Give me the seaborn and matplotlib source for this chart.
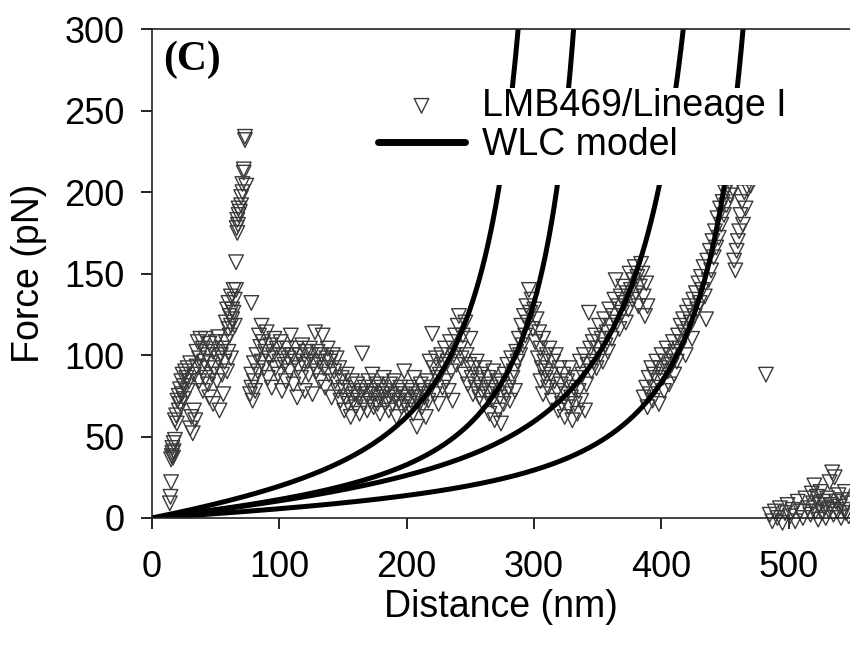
import numpy as np
import pandas as pd
import matplotlib
matplotlib.use("Agg")
import matplotlib.pyplot as plt
from matplotlib.patches import Rectangle
import seaborn as sns

# --- data (distance nm, force pN) ---
rise_x = [14, 14.5, 15, 15, 15.5, 16, 16, 16.5, 17, 17, 18, 18, 19, 19.5, 20, 21, 21, 22, 22, 23,
          23.5, 24, 25, 25, 26, 27, 28, 28, 29, 30]
rise_y = [9, 13, 22, 36, 38, 40, 43, 37, 46, 41, 48, 60, 63, 58, 72, 75, 66, 79, 70, 84,
          76, 88, 81, 73, 90, 86, 78, 92, 84, 95]

plateau1_x = [30, 31, 32, 33, 33, 34, 35, 35, 36, 37, 37, 38, 39, 40, 40, 41, 42, 42, 43, 44, 45,
              45, 46, 47, 48, 48, 49, 50, 51, 52, 52, 53, 54, 55, 55, 56, 57, 58, 59, 60, 61, 62]
plateau1_y = [55, 62, 52, 66, 88, 60, 102, 93, 108, 84, 98, 110, 92, 78, 104, 96, 110, 86, 100, 82, 74,
              107, 95, 88, 102, 70, 92, 108, 84, 98, 111, 66, 100, 88, 104, 76, 96, 108, 90, 102, 112, 98]

peak_x = [58, 59, 60, 60, 61, 62, 62, 63, 63, 64, 64, 65, 65, 66, 66, 66.5, 67, 67, 67.5, 68, 68,
          69, 70, 70, 71, 71, 72, 72, 73, 73, 74, 78]
peak_y = [120, 128, 116, 132, 124, 118, 136, 128, 122, 140, 126, 118, 134, 140, 157, 178, 183, 175, 180, 186, 190,
          188, 192, 197, 205, 200, 212, 214, 232, 234, 204, 132]

plateau2_x = [77, 78, 78, 79, 80, 80, 81, 82, 83, 84, 85, 86, 86, 87, 88, 89, 90, 91, 92, 93, 94, 95,
              96, 97, 98, 99, 100, 101, 102, 103, 104, 105, 106, 107, 108, 109, 110, 111, 112, 113, 114,
              115, 116, 117, 118, 119, 120, 121, 122, 123, 124, 125, 126, 127, 128, 129, 130, 131, 132,
              133, 134, 135, 136, 137, 138, 139, 140, 141, 142, 143, 144, 145, 146, 147, 148, 149]
plateau2_y = [76, 80, 88, 72, 95, 84, 78, 100, 90, 112, 105, 96, 118, 108, 92, 102, 114, 86, 98, 106, 80, 100,
              110, 92, 104, 88, 96, 108, 78, 100, 94, 84, 104, 98, 90, 112, 100, 82, 96, 104, 74,
              92, 100, 86, 106, 94, 78, 102, 96, 88, 104, 100, 76, 94, 114, 90, 102, 96, 84,
              100, 112, 92, 80, 98, 104, 88, 96, 74, 100, 90, 84, 98, 78, 92, 72, 86]

plateau3_x = [150, 151, 152, 153, 154, 155, 156, 157, 158, 159, 160, 161, 162, 163, 164, 165, 166, 167,
              168, 169, 170, 171, 172, 173, 174, 175, 176, 177, 178, 179, 180, 181, 182, 183, 184, 185,
              186, 187, 188, 189, 190, 191, 192, 193, 194, 195, 196, 197, 198, 199, 200, 201, 202, 203,
              204, 205, 206, 207, 208, 209, 210, 211, 212, 213, 214, 215, 216, 217, 218, 219, 220, 221,
              222, 223, 224, 225]
plateau3_y = [80, 66, 74, 88, 70, 78, 62, 84, 72, 76, 68, 82, 74, 64, 78, 101, 70, 80,
              76, 66, 84, 72, 78, 88, 68, 76, 82, 70, 74, 64, 80, 76, 86, 70, 78, 72,
              66, 82, 76, 70, 84, 74, 62, 78, 72, 80, 68, 76, 90, 70, 74, 66, 80, 72,
              78, 64, 86, 74, 56, 76, 70, 82, 68, 78, 74, 62, 84, 72, 96, 80, 113, 92,
              76, 98, 86, 70]

peak1_x = [226, 227, 228, 229, 230, 231, 232, 233, 234, 235, 236, 237, 238, 239, 240, 241, 242, 243,
           244, 245, 246, 247, 248, 249, 250, 251, 252, 253, 254, 255]
peak1_y = [88, 100, 80, 94, 104, 84, 96, 78, 108, 90, 72, 100, 112, 94, 118, 124, 104, 98,
           112, 88, 120, 100, 82, 94, 110, 86, 76, 92, 80, 96]

relax1_x = [256, 257, 258, 259, 260, 261, 262, 263, 264, 265, 266, 267, 268, 269, 270, 271, 272, 273,
            274, 275, 276, 277, 278, 279, 280, 281, 282, 283, 284, 285]
relax1_y = [84, 74, 88, 78, 70, 92, 82, 76, 86, 64, 80, 72, 90, 60, 78, 84, 66, 74,
            58, 82, 70, 88, 76, 94, 80, 72, 98, 86, 90, 78]

peak2_x = [286, 287, 288, 289, 290, 291, 292, 293, 294, 295, 296, 297, 298, 299, 300, 301, 302, 303,
           304, 305, 306, 307, 308, 309, 310]
peak2_y = [102, 96, 110, 100, 118, 106, 124, 112, 130, 120, 140, 126, 134, 116, 128, 108, 122, 98,
           114, 104, 92, 110, 96, 86, 100]

relax2_x = [305, 307, 309, 311, 312, 313, 314, 315, 316, 317, 318, 319, 320, 321, 322, 323, 324, 325,
            326, 327, 328, 329, 330, 331, 332, 333, 334, 335, 336, 337, 338, 339, 340, 341, 342, 343,
            344, 345]
relax2_y = [84, 76, 90, 80, 104, 88, 72, 96, 84, 100, 78, 66, 92, 82, 70, 88, 62, 76,
            84, 68, 92, 74, 60, 80, 70, 86, 64, 78, 96, 72, 88, 100, 66, 82, 94, 126,
            104, 90]

peak3_x = [346, 347, 348, 349, 350, 351, 352, 353, 354, 355, 356, 357, 358, 359, 360, 361, 362, 363,
           364, 365, 366, 367, 368, 369, 370, 371, 372, 373, 374, 375, 376, 377, 378, 379, 380, 381,
           382, 383, 384, 385, 386, 387, 388, 389]
peak3_y = [108, 96, 112, 92, 104, 118, 100, 110, 96, 122, 106, 114, 102, 128, 118, 110, 124, 134,
           146, 120, 130, 116, 136, 126, 142, 132, 120, 138, 128, 150, 140, 134, 146, 154, 138, 148,
           130, 142, 156, 150, 136, 124, 144, 130]

relax3_x = [386, 388, 389, 390, 391, 392, 393, 394, 395, 396, 397, 398, 399, 400, 401, 402, 403, 404,
            405, 406, 407, 408, 409, 410, 411, 412]
relax3_y = [74, 80, 68, 86, 76, 92, 72, 88, 80, 96, 84, 70, 92, 100, 86, 78, 96, 104,
            90, 82, 100, 94, 108, 88, 102, 96]

peak4_x = [413, 414, 415, 416, 417, 418, 419, 420, 421, 422, 423, 424, 425, 426, 427, 428, 429, 430,
           431, 432, 433, 434, 435, 436, 437, 438, 439, 440, 441, 442, 443, 444, 445, 446, 447, 448,
           449, 450, 451, 452, 454, 456, 457, 458, 459, 460, 461, 462, 463, 464, 465, 466, 468, 470]
peak4_y = [112, 104, 118, 108, 122, 114, 100, 126, 116, 130, 120, 110, 134, 124, 138, 128, 144, 132,
           148, 140, 154, 136, 122, 158, 146, 164, 152, 170, 160, 176, 166, 184, 172, 190, 180, 194,
           186, 200, 192, 204, 198, 202, 158, 152, 164, 170, 176, 186, 194, 180, 200, 190, 202, 204]

detached_x = [482, 485, 487, 489, 491, 493, 495, 497, 499, 501, 503, 505, 507, 509, 511, 513, 515, 517,
              518, 519, 520, 521, 522, 523, 524, 525, 526, 527, 528, 529, 530, 531, 532, 533, 534, 535,
              536, 537, 538, 539, 540, 541, 542, 543, 544, 545, 546, 547]
detached_y = [88, 2, -2, 4, 0, 6, -3, 3, 8, 1, 5, -2, 10, 4, 0, 12, 6, 2,
              15, 9, 20, 4, 13, -1, 8, 16, 3, 10, 6, 0, 12, 5, 22, 8, 28, 2,
              25, 10, 4, 14, 7, 0, 11, 5, 16, 3, 9, 1]

# WLC fits: contour length (nm) and kT/p (pN) for the four curves
contour_lengths = [352, 388, 500, 530]
kt_over_p = [37.5, 24.6, 31.0, 17.9]

distance = np.concatenate([rise_x, plateau1_x, peak_x, plateau2_x, plateau3_x, peak1_x, relax1_x,
                           peak2_x, relax2_x, peak3_x, relax3_x, peak4_x, detached_x])
force = np.concatenate([rise_y, plateau1_y, peak_y, plateau2_y, plateau3_y, peak1_y, relax1_y,
                        peak2_y, relax2_y, peak3_y, relax3_y, peak4_y, detached_y])


def wlc_force(x, L, k):
    t = x / L
    return k * (0.25 / (1 - t) ** 2 - 0.25 + t)


rows = []
for i, (L, k) in enumerate(zip(contour_lengths, kt_over_p)):
    xs = np.linspace(0, 0.93 * L, 600)
    rows.append(pd.DataFrame({"x": xs, "F": wlc_force(xs, L, k), "curve": i}))
wlc = pd.concat(rows, ignore_index=True)

# --- plot ---
sns.set_theme(style="ticks")
plt.rcParams["font.family"] = ["Liberation Sans", "DejaVu Sans"]
plt.rcParams["text.color"] = "black"
plt.rcParams["axes.labelcolor"] = "black"

fig = plt.figure(figsize=(8.5, 6.45), dpi=100)
ax = fig.add_axes([0.1788, 0.1969, 0.8212, 0.7577])

sns.scatterplot(x=distance, y=force, marker="v", s=110, facecolor="none", edgecolor="#3a3a3a",
                linewidth=1.0, clip_on=False, label="LMB469/Lineage I", ax=ax, zorder=1)
sns.lineplot(data=wlc, x="x", y="F", units="curve", estimator=None, color="black",
             linewidth=3.6, label="WLC model", ax=ax, zorder=2)

ax.set_xlim(0, 548)
ax.set_ylim(0, 300)
ax.set_xticks([0, 100, 200, 300, 400, 500])
ax.set_yticks([0, 50, 100, 150, 200, 250, 300])
ax.tick_params(direction="out", length=8, width=1.2, labelsize=26, colors="black", pad=12)
ax.tick_params(axis="x", pad=15)

for side in ["left", "bottom", "top"]:
    ax.spines[side].set_visible(True)
    ax.spines[side].set_color("#222222")
    ax.spines[side].set_linewidth(1.2)
ax.spines["right"].set_visible(False)

ax.set_xlabel("Distance (nm)", fontsize=27)
ax.set_ylabel("Force (pN)", fontsize=27)
ax.xaxis.set_label_coords(0.5, -0.145)
ax.yaxis.set_label_coords(-0.15, 0.5)

# white legend background box
ax.add_patch(Rectangle((0.3123, 0.681), 0.7, 0.199, transform=ax.transAxes,
                       facecolor="white", edgecolor="none", zorder=4, clip_on=False))

handles, labels = ax.get_legend_handles_labels()
uniq = dict(zip(labels, handles))
leg = ax.legend(uniq.values(), uniq.keys(), loc="center left", bbox_to_anchor=(0.3238, 0.803),
                frameon=False, fontsize=27, handlelength=2.32, handletextpad=0.45,
                labelspacing=0.1, borderpad=0, borderaxespad=0, scatterpoints=1)
leg.set_zorder(5)
leg.get_lines()[0].set_linewidth(5)

ax.text(0.0158, 0.978, "(C)", transform=ax.transAxes, ha="left", va="top",
        fontsize=30, fontweight="bold", family=["Liberation Serif", "DejaVu Serif"])

fig.savefig("out.png", dpi=100)
